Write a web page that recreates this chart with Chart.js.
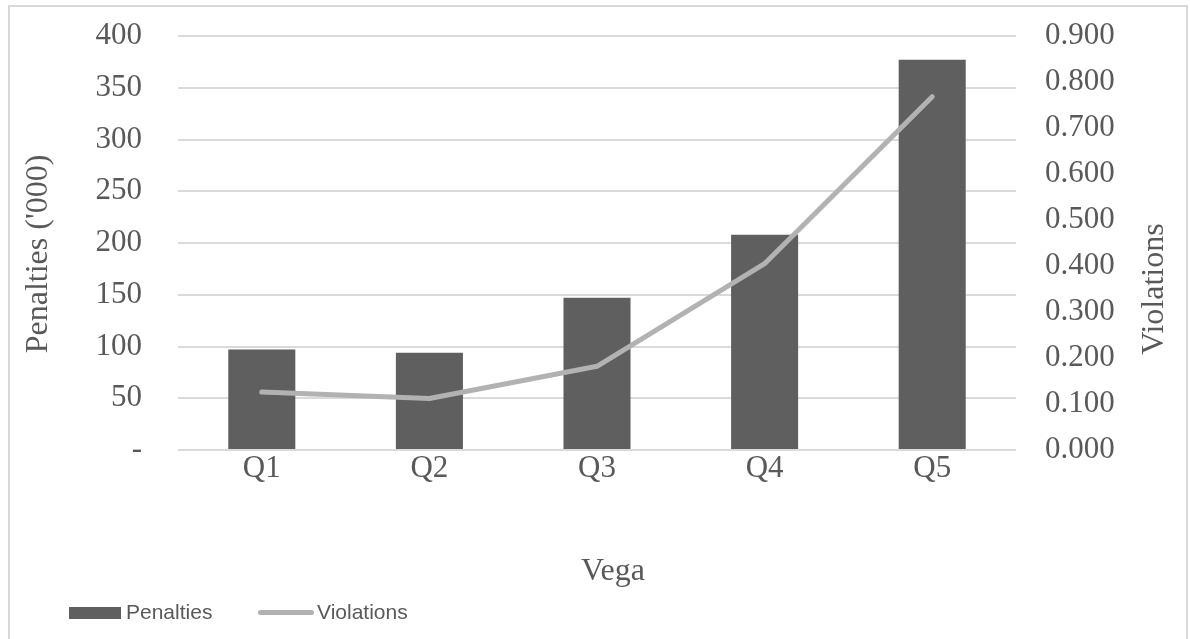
<!DOCTYPE html>
<html>
<head>
<meta charset="utf-8">
<script src="https://cdn.jsdelivr.net/npm/chart.js@4.4.0/dist/chart.umd.min.js"></script>
<style>
  body { margin: 0; background: #fff; }
  #wrap { position: relative; width: 1190px; height: 639px; overflow: hidden; }
  #frame { position: absolute; left: 8px; top: 5px; width: 1176px; height: 700px; border: 2px solid #d9d9d9; }
  canvas { position: absolute; left: 0; top: 0; }
  .lg { position: absolute; font-family: 'Liberation Sans', Arial, sans-serif; font-size: 21px; color: #595959; line-height: 24px; }
</style>
</head>
<body>
<div id="wrap">
  <div id="frame"></div>
  <canvas id="myChart" width="1190" height="639"></canvas>
  <div class="lg" style="left:69px;top:607px;width:52px;height:12px;background:#5f5f5f"></div>
  <div class="lg" style="left:126px;top:600px">Penalties</div>
  <div class="lg" style="left:258px;top:610px;width:56px;height:5px;border-radius:3px;background:#b2b2b2"></div>
  <div class="lg" style="left:317px;top:600px">Violations</div>
</div>
<script>
const ctx = document.getElementById('myChart');

// data
const quintiles = ['Q1', 'Q2', 'Q3', 'Q4', 'Q5'];
const penalties = [97, 94, 147, 208, 377];        // '000
const violations = [0.126, 0.112, 0.182, 0.405, 0.768];

const leftRange = [0, 400, 50];
const rightRange = [0, 0.9, 0.1];

const textCol = '#595959';
const serif = '"Liberation Serif", "Times New Roman", serif';

// axis titles drawn by hand (right one reads bottom to top)
const axisTitles = {
    id: 'axisTitles',
    afterDraw(chart) {
        const c = chart.ctx;
        c.save();
        c.font = '32px ' + serif;
        c.fillStyle = textCol;
        c.textAlign = 'center';
        c.textBaseline = 'middle';
        c.fillText('Vega', 613, 572);
        c.translate(39, 254);
        c.rotate(-Math.PI / 2);
        c.fillText("Penalties ('000)", 0, 0);
        c.restore();
        c.save();
        c.font = '32px ' + serif;
        c.fillStyle = textCol;
        c.textAlign = 'center';
        c.textBaseline = 'middle';
        c.translate(1155, 289);
        c.rotate(-Math.PI / 2);
        c.fillText('Violations', 0, 0);
        c.restore();
    }
};

new Chart(ctx, {
    data: {
        labels: quintiles,
        datasets: [
            {
                type: 'line',
                label: 'Violations',
                data: violations,
                yAxisID: 'y2',
                borderColor: '#b2b2b2',
                borderWidth: 5,
                borderCapStyle: 'round',
                borderJoinStyle: 'round',
                tension: 0,
                pointRadius: 0,
                order: 0
            },
            {
                type: 'bar',
                label: 'Penalties',
                data: penalties,
                yAxisID: 'y',
                backgroundColor: '#5f5f5f',
                barPercentage: 0.5,
                categoryPercentage: 0.8,
                order: 1
            }
        ]
    },
    options: {
        responsive: false,
        animation: false,
        layout: { padding: { top: 36, bottom: 0, left: 0, right: 0 } },
        plugins: { legend: { display: false }, tooltip: { enabled: false } },
        scales: {
            x: {
                grid: { display: false, drawTicks: false },
                border: { display: false },
                ticks: { color: textCol, font: { family: serif, size: 31 }, padding: 0 },
                afterFit(s) { s.height = 189; }
            },
            y: {
                position: 'left',
                min: leftRange[0], max: leftRange[1],
                grid: { color: '#dadada', lineWidth: 2, drawTicks: false },
                border: { display: false },
                ticks: {
                    stepSize: leftRange[2],
                    color: textCol,
                    font: { family: serif, size: 31 },
                    padding: 36,
                    callback: v => v === 0 ? '-' : v
                },
                afterFit(s) { s.width = 178; s.paddingTop = 0; s.paddingBottom = 0; }
            },
            y2: {
                position: 'right',
                min: rightRange[0], max: rightRange[1],
                grid: { display: false, drawTicks: false },
                border: { display: false },
                ticks: {
                    stepSize: rightRange[2],
                    color: textCol,
                    font: { family: serif, size: 31 },
                    padding: 29,
                    callback: v => v.toFixed(3)
                },
                afterFit(s) { s.width = 174; s.paddingTop = 0; s.paddingBottom = 0; }
            }
        }
    },
    plugins: [axisTitles]
});
</script>
</body>
</html>
